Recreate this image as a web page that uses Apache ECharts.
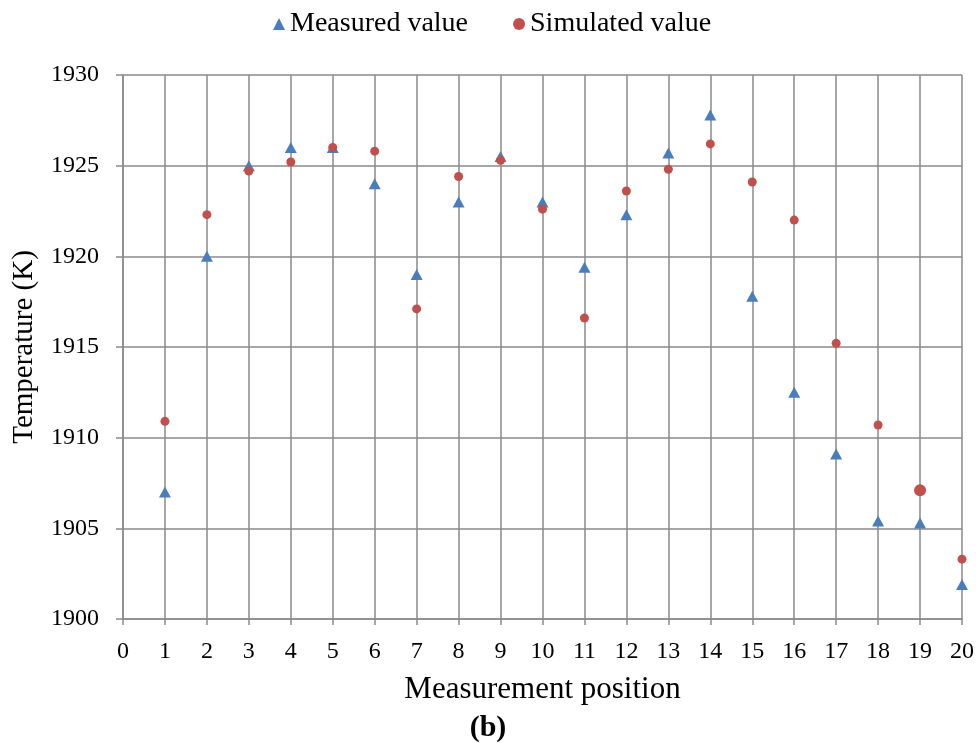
<!DOCTYPE html>
<html>
<head>
<meta charset="utf-8">
<script src="https://cdn.jsdelivr.net/npm/echarts@6/dist/echarts.min.js"></script>
<style>
  html, body { margin: 0; padding: 0; background: #fff; }
  #chart { width: 976px; height: 743px; }
</style>
</head>
<body>
<div id="chart"></div>
<script>
// Measurement positions along the probe line
const positions = [1, 2, 3, 4, 5, 6, 7, 8, 9, 10, 11, 12, 13, 14, 15, 16, 17, 18, 19, 20];
// Temperatures (K)
const measured = [1907.0, 1920.0, 1925.0, 1926.0, 1926.0, 1924.0, 1919.0, 1923.0, 1925.5, 1923.0,
                  1919.4, 1922.3, 1925.7, 1927.8, 1917.8, 1912.5, 1909.1, 1905.4, 1905.3, 1901.9];
const simulated = [1910.9, 1922.3, 1924.7, 1925.2, 1926.0, 1925.8, 1917.1, 1924.4, 1925.3, 1922.6,
                   1916.6, 1923.6, 1924.8, 1926.2, 1924.1, 1922.0, 1915.2, 1910.7, 1907.1, 1903.3];
const yTicks = [1900, 1905, 1910, 1915, 1920, 1925, 1930];
const xTicks = [0, 20];

const FONT = '"Liberation Serif", "DejaVu Serif", serif';
const GRID = '#8a8a8a';
const BLUE = '#4a7ebb';
const RED = '#c0504d';

const pair = (ys) => positions.map((x, i) => [x, ys[i]]);

const chart = echarts.init(document.getElementById('chart'), null, { renderer: 'canvas' });
chart.setOption({
  animation: false,
  backgroundColor: '#fff',
  textStyle: { fontFamily: FONT, color: '#000' },
  legend: {
    top: 5,
    left: 268,
    itemGap: 45,
    itemWidth: 12,
    itemHeight: 12,
    textStyle: { fontFamily: FONT, fontSize: 28, color: '#000' },
    data: [
      { name: 'Measured value', icon: 'triangle' },
      { name: 'Simulated value', icon: 'circle' }
    ]
  },
  grid: { left: 123, right: 14, top: 75, bottom: 124, containLabel: false, outerBoundsMode: 'none' },
  xAxis: {
    type: 'value',
    min: xTicks[0],
    max: xTicks[1],
    interval: 1,
    name: 'Measurement position',
    nameLocation: 'middle',
    nameGap: 55,
    nameTextStyle: { fontFamily: FONT, fontSize: 31, color: '#000' },
    axisLine: { onZero: false, lineStyle: { color: GRID, width: 1.5 } },
    axisTick: { show: true, length: 6, inside: false, lineStyle: { color: GRID, width: 1.5 } },
    axisLabel: { margin: 21, fontFamily: FONT, fontSize: 24, color: '#000' },
    splitLine: { show: true, lineStyle: { color: GRID, width: 1.5 } }
  },
  yAxis: {
    type: 'value',
    min: yTicks[0],
    max: yTicks[yTicks.length - 1],
    interval: yTicks[1] - yTicks[0],
    name: 'Temperature (K)',
    nameLocation: 'middle',
    nameGap: 84,
    nameTextStyle: { fontFamily: FONT, fontSize: 29, color: '#000' },
    axisLine: { show: true, lineStyle: { color: GRID, width: 1.5 } },
    axisTick: { show: true, length: 7, lineStyle: { color: GRID, width: 1.5 } },
    axisLabel: { margin: 24, fontFamily: FONT, fontSize: 24, color: '#000', formatter: (v) => String(v) },
    splitLine: { show: true, lineStyle: { color: GRID, width: 1.5 } }
  },
  series: [
    {
      name: 'Measured value',
      type: 'scatter',
      symbol: 'triangle',
      symbolSize: [12, 11],
      itemStyle: { color: BLUE, opacity: 1 },
      data: pair(measured),
      z: 3
    },
    {
      name: 'Simulated value',
      type: 'scatter',
      symbol: 'circle',
      symbolSize: (val, p) => (p.dataIndex === 18 ? 12 : 9),
      itemStyle: { color: RED, opacity: 1 },
      data: pair(simulated),
      z: 4
    }
  ],
  graphic: [
    {
      type: 'text',
      left: 'center',
      top: 713,
      style: { text: '(b)', font: 'bold 30px ' + FONT, fill: '#000' }
    }
  ]
});
</script>
</body>
</html>
